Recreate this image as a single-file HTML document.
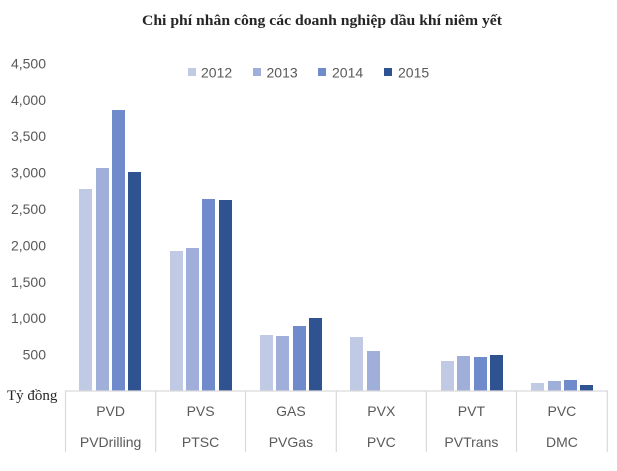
<!DOCTYPE html>
<html>
<head>
<meta charset="utf-8">
<style>
  html, body { margin:0; padding:0; background:#ffffff; }
  svg { display:block; }
</style>
</head>
<body>
<svg width="617" height="471" viewBox="0 0 617 471" xmlns="http://www.w3.org/2000/svg">
  <rect x="0" y="0" width="617" height="471" fill="#ffffff"/>
  <!-- Title -->
  <text x="322" y="25" text-anchor="middle" font-family="'Liberation Serif', serif" font-weight="bold" font-size="15" fill="#262626" textLength="360" lengthAdjust="spacingAndGlyphs">Chi phí nhân công các doanh nghiệp dầu khí niêm yết</text>

  <!-- Legend -->
  <g font-family="'Liberation Sans', sans-serif" font-size="14" fill="#595959">
    <rect x="188" y="68" width="8" height="8" fill="#c1cae5"/>
    <text x="201" y="77.5">2012</text>
    <rect x="253" y="68" width="8" height="8" fill="#a0afd9"/>
    <text x="266.5" y="77.5">2013</text>
    <rect x="318" y="68" width="8" height="8" fill="#6f8bcc"/>
    <text x="332" y="77.5">2014</text>
    <rect x="384" y="68" width="8" height="8" fill="#2f5290"/>
    <text x="398" y="77.5">2015</text>
  </g>

  <!-- Y axis labels -->
  <g font-family="'Liberation Sans', sans-serif" font-size="14" fill="#595959" text-anchor="end">
    <text x="46" y="68.4">4,500</text>
    <text x="46" y="104.8">4,000</text>
    <text x="46" y="141.2">3,500</text>
    <text x="46" y="177.6">3,000</text>
    <text x="46" y="214">2,500</text>
    <text x="46" y="250.4">2,000</text>
    <text x="46" y="286.8">1,500</text>
    <text x="46" y="323.2">1,000</text>
    <text x="46" y="359.6">500</text>
  </g>
  <text x="7" y="400" font-family="'Liberation Serif', 'Noto Serif CJK SC', serif" font-size="15" fill="#262626">Tỷ đồng</text>

  <!-- Bars -->
  <g>
    <!-- PVD -->
    <rect x="79" y="189" width="13" height="202" fill="#c1cae5"/>
    <rect x="96" y="168" width="13" height="223" fill="#a0afd9"/>
    <rect x="112" y="110" width="13" height="281" fill="#6f8bcc"/>
    <rect x="128" y="172" width="13" height="219" fill="#2f5290"/>
    <!-- PVS -->
    <rect x="170" y="251" width="13" height="140" fill="#c1cae5"/>
    <rect x="186" y="248" width="13" height="143" fill="#a0afd9"/>
    <rect x="202" y="199" width="13" height="192" fill="#6f8bcc"/>
    <rect x="219" y="200" width="13" height="191" fill="#2f5290"/>
    <!-- GAS -->
    <rect x="260" y="335" width="13" height="56" fill="#c1cae5"/>
    <rect x="276" y="336" width="13" height="55" fill="#a0afd9"/>
    <rect x="293" y="326" width="13" height="65" fill="#6f8bcc"/>
    <rect x="309" y="318" width="13" height="73" fill="#2f5290"/>
    <!-- PVX -->
    <rect x="350" y="337" width="13" height="54" fill="#c1cae5"/>
    <rect x="367" y="351" width="13" height="40" fill="#a0afd9"/>
    <!-- PVT -->
    <rect x="441" y="361" width="13" height="30" fill="#c1cae5"/>
    <rect x="457" y="356" width="13" height="35" fill="#a0afd9"/>
    <rect x="474" y="357" width="13" height="34" fill="#6f8bcc"/>
    <rect x="490" y="355" width="13" height="36" fill="#2f5290"/>
    <!-- PVC -->
    <rect x="531" y="383" width="13" height="8" fill="#c1cae5"/>
    <rect x="548" y="381" width="13" height="10" fill="#a0afd9"/>
    <rect x="564" y="380" width="13" height="11" fill="#6f8bcc"/>
    <rect x="580" y="385" width="13" height="6" fill="#2f5290"/>
  </g>

  <!-- Axis lines -->
  <g stroke="#d9d9d9" stroke-width="1.2" fill="none">
    <line x1="65" y1="391" x2="608" y2="391"/>
    <line x1="65.5" y1="391" x2="65.5" y2="452"/>
    <line x1="155.7" y1="391" x2="155.7" y2="452"/>
    <line x1="245.5" y1="391" x2="245.5" y2="452"/>
    <line x1="336.3" y1="391" x2="336.3" y2="452"/>
    <line x1="426.3" y1="391" x2="426.3" y2="452"/>
    <line x1="516.5" y1="391" x2="516.5" y2="452"/>
    <line x1="607.3" y1="391" x2="607.3" y2="452"/>
  </g>

  <!-- Category labels -->
  <g font-family="'Liberation Sans', sans-serif" font-size="14" fill="#595959" text-anchor="middle">
    <text x="110.6" y="416">PVD</text>
    <text x="110.6" y="447">PVDrilling</text>
    <text x="200.6" y="416">PVS</text>
    <text x="200.6" y="447">PTSC</text>
    <text x="290.9" y="416">GAS</text>
    <text x="290.9" y="447">PVGas</text>
    <text x="381.3" y="416">PVX</text>
    <text x="381.3" y="447">PVC</text>
    <text x="471.4" y="416">PVT</text>
    <text x="471.4" y="447">PVTrans</text>
    <text x="561.9" y="416">PVC</text>
    <text x="561.9" y="447">DMC</text>
  </g>
</svg>
</body>
</html>
